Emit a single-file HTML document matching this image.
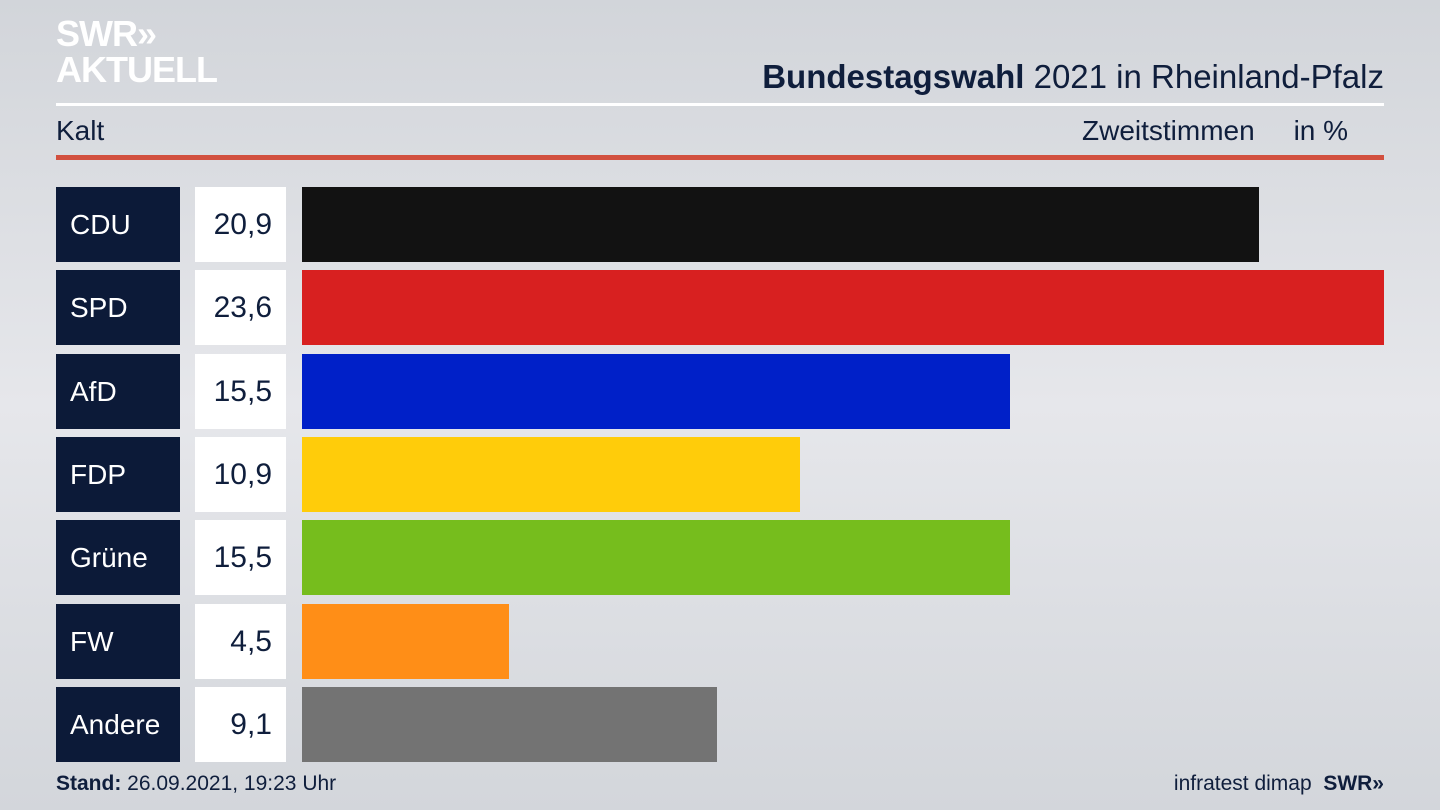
<!DOCTYPE html>
<html><head><meta charset="utf-8"><style>
body{margin:0;width:1440px;height:810px;overflow:hidden;background:linear-gradient(180deg,#d2d5da 0%,#e6e7eb 50%,#d3d6db 100%);font-family:"Liberation Sans",sans-serif;position:relative;color:#0f1e3c}
.a{position:absolute}
.lab{position:absolute;left:56px;width:124px;height:75px;background:#0c1a38;color:#fff;font-size:28px;line-height:75px;padding-left:14px;box-sizing:border-box}
.val{position:absolute;left:195px;width:91px;height:75px;background:#fff;color:#0f1e3c;font-size:30px;line-height:75px;text-align:right;padding-right:14px;box-sizing:border-box}
.bar{position:absolute;left:302px;height:75px}
</style></head><body>
<div class="a" style="left:56px;top:16px;color:#fff;font-weight:bold;font-size:36px;line-height:36px;letter-spacing:-1px">SWR»<br>AKTUELL</div>
<div class="a" style="right:56px;top:58px;font-size:33px;color:#0f1e3c"><b>Bundestagswahl</b> 2021 in Rheinland-Pfalz</div>
<div class="a" style="left:56px;top:103px;width:1328px;height:3px;background:#fff"></div>
<div class="a" style="left:56px;top:115px;font-size:28px">Kalt</div>
<div class="a" style="left:1082px;top:115px;font-size:28px">Zweitstimmen&nbsp;&nbsp;&nbsp;&nbsp;&nbsp;in %</div>
<div class="a" style="left:56px;top:155px;width:1328px;height:5px;background:#d2503f"></div>

<div class="lab" style="top:187px">CDU</div><div class="val" style="top:187px">20,9</div><div class="bar" style="top:187px;width:957px;background:#121212"></div>
<div class="lab" style="top:270px">SPD</div><div class="val" style="top:270px">23,6</div><div class="bar" style="top:270px;width:1082px;background:#d82020"></div>
<div class="lab" style="top:354px">AfD</div><div class="val" style="top:354px">15,5</div><div class="bar" style="top:354px;width:708px;background:#0020c8"></div>
<div class="lab" style="top:437px">FDP</div><div class="val" style="top:437px">10,9</div><div class="bar" style="top:437px;width:498px;background:#ffcc0a"></div>
<div class="lab" style="top:520px">Grüne</div><div class="val" style="top:520px">15,5</div><div class="bar" style="top:520px;width:708px;background:#76bd1d"></div>
<div class="lab" style="top:604px">FW</div><div class="val" style="top:604px">4,5</div><div class="bar" style="top:604px;width:207px;background:#ff8e17"></div>
<div class="lab" style="top:687px">Andere</div><div class="val" style="top:687px">9,1</div><div class="bar" style="top:687px;width:415px;background:#737373"></div>

<div class="a" style="left:56px;top:772px;font-size:21px"><b>Stand:</b> 26.09.2021, 19:23 Uhr</div>
<div class="a" style="right:56px;top:772px;font-size:21px">infratest dimap&nbsp;&nbsp;<b>SWR»</b></div>
</body></html>
